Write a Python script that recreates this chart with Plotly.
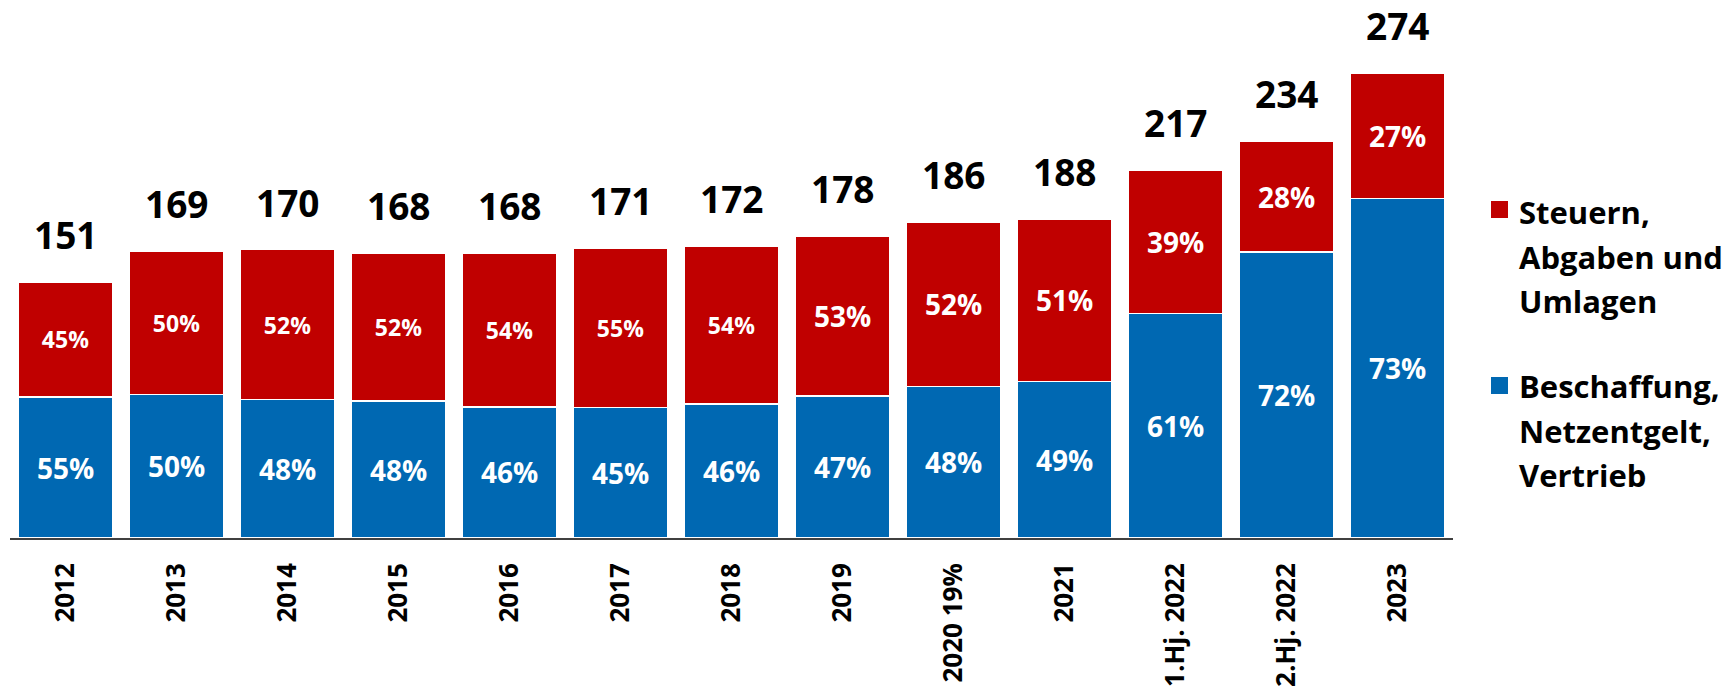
import plotly.graph_objects as go

categories = ["2012", "2013", "2014", "2015", "2016", "2017", "2018", "2019",
              "2020 19%", "2021", "1.Hj. 2022", "2.Hj. 2022", "2023"]
totals = [151, 169, 170, 168, 168, 171, 172, 178, 186, 188, 217, 234, 274]
share_taxes = [45, 50, 52, 52, 54, 55, 54, 53, 52, 51, 39, 28, 27]
share_supply = [55, 50, 48, 48, 46, 45, 46, 47, 48, 49, 61, 72, 73]
name_taxes = "Steuern,<br>Abgaben und<br>Umlagen"
name_supply = "Beschaffung,<br>Netzentgelt,<br>Vertrieb"

RED = "#C00000"
BLUE = "#0068B2"
FONT = "Open Sans"

supply_vals = [t * s / 100 for t, s in zip(totals, share_supply)]
tax_vals = [t * s / 100 for t, s in zip(totals, share_taxes)]

red_sizes = [23 if i < 7 else 28 for i in range(len(categories))]

fig = go.Figure()
fig.add_trace(go.Bar(
    x=categories, y=supply_vals, name=name_supply,
    marker=dict(color=BLUE, line=dict(color="white", width=1.5)),
    text=[f"<b>{s}%</b>" for s in share_supply], textposition="inside",
    insidetextanchor="middle", textangle=0,
    textfont=dict(family=FONT, size=28, color="white"),
    showlegend=False, hoverinfo="skip",
))
fig.add_trace(go.Bar(
    x=categories, y=tax_vals, name=name_taxes,
    marker=dict(color=RED, line=dict(color="white", width=1.5)),
    text=[f"<b>{s}%</b>" for s in share_taxes], textposition="inside",
    insidetextanchor="middle", textangle=0,
    textfont=dict(family=FONT, size=red_sizes, color="white"),
    showlegend=False, hoverinfo="skip",
))

for i, t in enumerate(totals):
    fig.add_annotation(x=i, y=t, text=f"<b>{t}</b>", showarrow=False,
                       xanchor="center", yanchor="bottom", yshift=20,
                       font=dict(family=FONT, size=37, color="black"))

# custom legend (paper coords relative to plot area)
L, W, T, H = 10, 1443, 29, 509
def px(x):
    return (x - L) / W
def py(y):
    return (T + H - y) / H

legend = [
    (RED, (201, 218), name_taxes.split("<br>"), [211, 256, 300]),
    (BLUE, (377, 394), name_supply.split("<br>"), [385, 430, 474]),
]
for color, (sy0, sy1), lines, ys in legend:
    fig.add_shape(type="rect", xref="paper", yref="paper",
                  x0=px(1491), x1=px(1508), y0=py(sy1), y1=py(sy0),
                  fillcolor=color, line=dict(width=0))
    for line, yy in zip(lines, ys):
        fig.add_annotation(xref="paper", yref="paper", x=px(1517), y=py(yy + 1),
                           text=f"<b>{line}</b>", showarrow=False, xanchor="left", yanchor="middle",
                           font=dict(family=FONT, size=31, color="black"))

fig.update_layout(
    width=1729, height=691,
    margin=dict(l=L, r=1729 - L - W, t=T, b=691 - T - H, autoexpand=False),
    barmode="stack", bargap=0.144,
    plot_bgcolor="white", paper_bgcolor="white",
    showlegend=False,
)
fig.update_xaxes(
    type="category", automargin=False,
    tickmode="array", tickvals=list(range(len(categories))),
    ticktext=[f"<b>{c}</b>" for c in categories],
    showline=True, linecolor="#404040", linewidth=1.5,
    tickangle=-90, ticks="outside", ticklen=13, tickcolor="rgba(0,0,0,0)",
    tickfont=dict(family=FONT, size=26, color="black"),
    showgrid=False,
)
fig.update_yaxes(range=[0, 300], visible=False, showgrid=False, zeroline=False,
                 automargin=False)

fig.write_html("out.html", config={"displayModeBar": False},
               post_script="document.body.style.margin='0';document.body.style.overflow='hidden';")
